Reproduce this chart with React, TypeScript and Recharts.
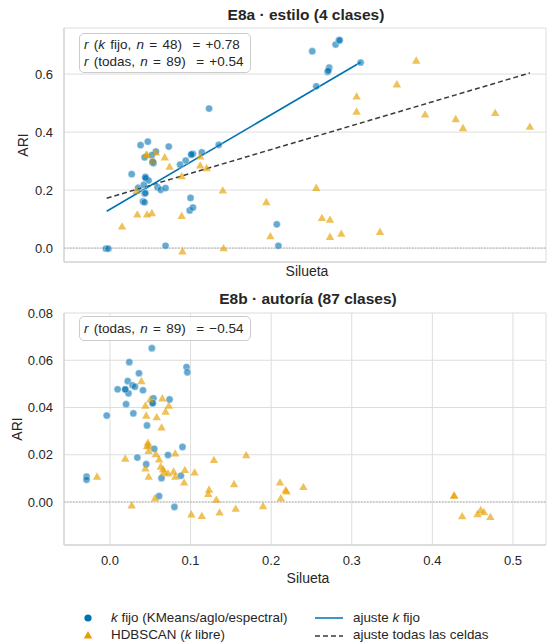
import React from 'react'
import { ScatterChart, Scatter, XAxis, YAxis, CartesianGrid, ReferenceLine } from 'recharts'

const FONT = '"Liberation Sans", Arial, sans-serif'
const BLUE = '#0072B2'
const ORANGE = '#E69F00'
const GRID = '#dddddd'
const TXT = '#262626'

const xTicks = [0, 0.1, 0.2, 0.3, 0.4, 0.5]
const estiloYTicks = [0, 0.2, 0.4, 0.6]
const autoriaYTicks = [0, 0.02, 0.04, 0.06, 0.08]

// E8a · estilo — k fijo
const estiloKFijo = [
  { x: -0.005, y: -0.002 }, { x: -0.002, y: -0.002 }, { x: 0.123, y: 0.481 }, { x: 0.047, y: 0.367 },
  { x: 0.038, y: 0.355 }, { x: 0.073, y: 0.35 }, { x: 0.057, y: 0.333 }, { x: 0.043, y: 0.313 },
  { x: 0.052, y: 0.321 }, { x: 0.053, y: 0.296 }, { x: 0.054, y: 0.293 }, { x: 0.101, y: 0.322 },
  { x: 0.103, y: 0.325 }, { x: 0.114, y: 0.33 }, { x: 0.135, y: 0.356 }, { x: 0.094, y: 0.302 },
  { x: 0.087, y: 0.288 }, { x: 0.027, y: 0.255 }, { x: 0.044, y: 0.246 }, { x: 0.045, y: 0.24 },
  { x: 0.048, y: 0.233 }, { x: 0.035, y: 0.208 }, { x: 0.042, y: 0.218 }, { x: 0.059, y: 0.21 },
  { x: 0.063, y: 0.201 }, { x: 0.069, y: 0.207 }, { x: 0.043, y: 0.188 }, { x: 0.1, y: 0.173 },
  { x: 0.041, y: 0.161 }, { x: 0.043, y: 0.158 }, { x: 0.099, y: 0.13 }, { x: 0.103, y: 0.14 },
  { x: 0.207, y: 0.082 }, { x: 0.209, y: 0.008 }, { x: 0.069, y: 0.008 }, { x: 0.251, y: 0.679 },
  { x: 0.28, y: 0.702 }, { x: 0.284, y: 0.716 }, { x: 0.285, y: 0.717 }, { x: 0.272, y: 0.622 },
  { x: 0.27, y: 0.608 }, { x: 0.271, y: 0.612 }, { x: 0.256, y: 0.558 }, { x: 0.311, y: 0.64 },
  { x: 0.044, y: 0.243 }, { x: 0.053, y: 0.298 }, { x: 0.101, y: 0.323 }, { x: 0.044, y: 0.19 },
]

// E8a · estilo — HDBSCAN
const estiloHdbscan = [
  { x: 0.045, y: 0.322 }, { x: 0.046, y: 0.321 }, { x: 0.057, y: 0.33 }, { x: 0.068, y: 0.313 },
  { x: 0.053, y: 0.3 }, { x: 0.074, y: 0.281 }, { x: 0.112, y: 0.316 }, { x: 0.112, y: 0.285 },
  { x: 0.12, y: 0.276 }, { x: 0.089, y: 0.248 }, { x: 0.033, y: 0.197 }, { x: 0.14, y: 0.199 },
  { x: 0.194, y: 0.159 }, { x: 0.034, y: 0.116 }, { x: 0.046, y: 0.116 }, { x: 0.052, y: 0.121 },
  { x: 0.089, y: 0.111 }, { x: 0.015, y: 0.075 }, { x: 0.199, y: 0.041 }, { x: 0.09, y: -0.011 },
  { x: 0.141, y: 0.0 }, { x: 0.38, y: 0.647 }, { x: 0.356, y: 0.565 }, { x: 0.306, y: 0.523 },
  { x: 0.306, y: 0.471 }, { x: 0.391, y: 0.461 }, { x: 0.429, y: 0.445 }, { x: 0.438, y: 0.414 },
  { x: 0.478, y: 0.466 }, { x: 0.521, y: 0.419 }, { x: 0.256, y: 0.208 }, { x: 0.263, y: 0.104 },
  { x: 0.273, y: 0.098 }, { x: 0.273, y: 0.039 }, { x: 0.287, y: 0.05 }, { x: 0.335, y: 0.056 },
]

const estiloFitKFijo = [{ x: -0.004, y: 0.127 }, { x: 0.311, y: 0.641 }]
const estiloFitTodas = [{ x: -0.004, y: 0.172 }, { x: 0.521, y: 0.604 }]

// E8b · autoría — k fijo
const autoriaKFijo = [
  { x: 0.052, y: 0.0651 }, { x: 0.024, y: 0.0592 }, { x: 0.036, y: 0.0545 }, { x: 0.095, y: 0.0571 },
  { x: 0.096, y: 0.0549 }, { x: 0.022, y: 0.0512 }, { x: 0.028, y: 0.0494 }, { x: 0.031, y: 0.0488 },
  { x: 0.0095, y: 0.0477 }, { x: 0.019, y: 0.0476 }, { x: 0.023, y: 0.046 }, { x: 0.041, y: 0.0473 },
  { x: 0.054, y: 0.0439 }, { x: 0.053, y: 0.0417 }, { x: 0.074, y: 0.0434 }, { x: 0.02, y: 0.0414 },
  { x: 0.029, y: 0.0375 }, { x: -0.004, y: 0.0366 }, { x: 0.046, y: 0.0324 }, { x: 0.055, y: 0.0225 },
  { x: 0.09, y: 0.0233 }, { x: 0.072, y: 0.0199 }, { x: 0.034, y: 0.0188 }, { x: 0.045, y: 0.016 },
  { x: -0.029, y: 0.0107 }, { x: -0.029, y: 0.0094 }, { x: 0.064, y: 0.0101 }, { x: 0.088, y: 0.0111 },
  { x: 0.061, y: 0.0025 }, { x: 0.08, y: -0.0021 }, { x: 0.019, y: 0.0477 }, { x: 0.053, y: 0.0419 },
]

// E8b · autoría — HDBSCAN
const autoriaHdbscan = [
  { x: 0.039, y: 0.0512 }, { x: 0.05, y: 0.0434 }, { x: 0.065, y: 0.0439 }, { x: 0.073, y: 0.0408 },
  { x: 0.044, y: 0.0408 }, { x: 0.069, y: 0.0383 }, { x: 0.045, y: 0.0366 }, { x: 0.058, y: 0.0359 },
  { x: 0.064, y: 0.0316 }, { x: 0.047, y: 0.0251 }, { x: 0.048, y: 0.024 }, { x: 0.046, y: 0.0237 },
  { x: 0.048, y: 0.0216 }, { x: 0.057, y: 0.0203 }, { x: 0.081, y: 0.0206 }, { x: 0.061, y: 0.0181 },
  { x: 0.019, y: 0.0184 }, { x: 0.129, y: 0.0178 }, { x: 0.169, y: 0.0198 }, { x: 0.063, y: 0.015 },
  { x: 0.066, y: 0.0139 }, { x: 0.067, y: 0.0128 }, { x: 0.044, y: 0.0142 }, { x: 0.072, y: 0.0121 },
  { x: 0.079, y: 0.0129 }, { x: 0.093, y: 0.0136 }, { x: 0.105, y: 0.0125 }, { x: 0.081, y: 0.0107 },
  { x: 0.048, y: 0.0107 }, { x: -0.016, y: 0.0108 }, { x: 0.092, y: 0.0083 }, { x: 0.154, y: 0.0076 },
  { x: 0.123, y: 0.0053 }, { x: 0.122, y: 0.0034 }, { x: 0.132, y: 0.001 }, { x: 0.056, y: 0.0017 },
  { x: 0.027, y: -0.0014 }, { x: 0.101, y: -0.0052 }, { x: 0.114, y: -0.0059 }, { x: 0.136, y: -0.0044 },
  { x: 0.156, y: -0.0028 }, { x: 0.211, y: 0.0083 }, { x: 0.218, y: 0.005 }, { x: 0.219, y: 0.0045 },
  { x: 0.24, y: 0.0064 }, { x: 0.212, y: 0.0016 }, { x: 0.19, y: -0.0017 }, { x: 0.427, y: 0.0027 },
  { x: 0.427, y: 0.0028 }, { x: 0.437, y: -0.006 }, { x: 0.456, y: -0.0051 }, { x: 0.46, y: -0.0034 },
  { x: 0.464, y: -0.0043 }, { x: 0.472, y: -0.0063 },
]

const Dot = (p: any) => (
  <circle cx={p.cx} cy={p.cy} r={3.6} fill={BLUE} fillOpacity={0.6} stroke="#ffffff" strokeWidth={0.4} />
)

const Tri = (p: any) => {
  const s = 4.2
  return (
    <path
      d={`M${p.cx},${p.cy - s} L${p.cx + s},${p.cy + s * 0.75} L${p.cx - s},${p.cy + s * 0.75} Z`}
      fill={ORANGE}
      fillOpacity={0.65}
    />
  )
}

const tickStyle = { fontSize: 13, fill: TXT, fontFamily: FONT }

const abs = (left: number, top: number, extra: React.CSSProperties = {}): React.CSSProperties => ({
  position: 'absolute', left, top, ...extra,
})

function Rotated({ cx, cy, text }: { cx: number; cy: number; text: string }) {
  return (
    <div style={abs(cx, cy, { transform: 'translate(-50%, -50%) rotate(-90deg)', fontSize: 14, whiteSpace: 'nowrap' })}>
      {text}
    </div>
  )
}

const boxText: React.CSSProperties = {
  border: '1px solid #cccccc', borderRadius: 5, background: 'rgba(255,255,255,0.85)',
  fontSize: 13.5, lineHeight: '17px', paddingLeft: 4, boxSizing: 'border-box', whiteSpace: 'nowrap',
  wordSpacing: 1.5,
}

const legendText: React.CSSProperties = { fontSize: 13.4, lineHeight: '16px', whiteSpace: 'nowrap' }
const titleText: React.CSSProperties = { width: 300, textAlign: 'center', fontSize: 15.5, fontWeight: 'bold', lineHeight: '18px' }

export default function App() {
  return (
    <div style={{ position: 'absolute', left: 0, top: 0, width: 548, height: 643, background: '#fff', fontFamily: FONT, color: TXT }}>
      <div style={abs(0, 0)}>
        <ScatterChart width={548} height={290} margin={{ top: 28, right: 2, bottom: 0, left: 0 }}>
          <CartesianGrid stroke={GRID} />
          <XAxis type="number" dataKey="x" domain={[-0.057, 0.541]} ticks={xTicks} allowDataOverflow
            height={28} tick={false} tickLine={false} axisLine={{ stroke: '#cccccc' }} />
          <YAxis type="number" dataKey="y" domain={[-0.048, 0.759]} ticks={estiloYTicks} allowDataOverflow
            width={64} tickLine={false} tickMargin={5} axisLine={{ stroke: '#cccccc' }} tick={tickStyle}
            tickFormatter={(v: number) => v.toFixed(1)} />
          <ReferenceLine y={0} stroke="#999999" strokeDasharray="1.5 1.5" strokeWidth={0.8} />
          <Scatter data={estiloKFijo} shape={Dot} isAnimationActive={false} />
          <Scatter data={estiloHdbscan} shape={Tri} isAnimationActive={false} />
          <ReferenceLine segment={estiloFitTodas} stroke="#3a3a3a" strokeWidth={1.5} strokeDasharray="5 3" />
          <ReferenceLine segment={estiloFitKFijo} stroke={BLUE} strokeWidth={1.6} />
        </ScatterChart>
      </div>

      <div style={abs(0, 285)}>
        <ScatterChart width={548} height={310} margin={{ top: 28, right: 2, bottom: 0, left: 0 }}>
          <CartesianGrid stroke={GRID} />
          <XAxis type="number" dataKey="x" domain={[-0.057, 0.541]} ticks={xTicks} allowDataOverflow
            height={50} tickLine={false} tickMargin={5} axisLine={{ stroke: '#cccccc' }} tick={tickStyle}
            tickFormatter={(v: number) => v.toFixed(1)} />
          <YAxis type="number" dataKey="y" domain={[-0.0182, 0.08]} ticks={autoriaYTicks} allowDataOverflow
            width={64} tickLine={false} tickMargin={5} axisLine={{ stroke: '#cccccc' }} tick={tickStyle}
            tickFormatter={(v: number) => v.toFixed(2)} />
          <ReferenceLine y={0} stroke="#999999" strokeDasharray="1.5 1.5" strokeWidth={0.8} />
          <Scatter data={autoriaKFijo} shape={Dot} isAnimationActive={false} />
          <Scatter data={autoriaHdbscan} shape={Tri} isAnimationActive={false} />
        </ScatterChart>
      </div>

      {/* titles */}
      <div style={abs(156, 6, titleText)}>E8a · estilo (4 clases)</div>
      <div style={abs(158, 290, titleText)}>E8b · autoría (87 clases)</div>

      {/* axis labels */}
      <Rotated cx={23} cy={145} text="ARI" />
      <Rotated cx={17} cy={429} text="ARI" />
      <div style={abs(257, 263, { width: 100, textAlign: 'center', fontSize: 14, lineHeight: '16px' })}>Silueta</div>
      <div style={abs(258, 570, { width: 100, textAlign: 'center', fontSize: 14, lineHeight: '16px' })}>Silueta</div>

      {/* annotation boxes */}
      <div style={abs(79, 33, { ...boxText, width: 172, height: 40, paddingTop: 2 })}>
        <div><i>r</i> (<i>k</i> fijo, <i>n</i> = 48) &nbsp;= +0.78</div>
        <div><i>r</i> (todas, <i>n</i> = 89) &nbsp;= +0.54</div>
      </div>
      <div style={abs(79, 316, { ...boxText, width: 172, height: 25, paddingTop: 3 })}>
        <i>r</i> (todas, <i>n</i> = 89) &nbsp;= −0.54
      </div>

      {/* legend */}
      <svg style={abs(0, 600)} width={548} height={43}>
        <circle cx={88} cy={18} r={3.6} fill={BLUE} />
        <path d="M88,31 L92.2,38.5 L83.8,38.5 Z" fill={ORANGE} />
        <line x1={315} x2={343} y1={18} y2={18} stroke={BLUE} strokeWidth={1.5} />
        <line x1={315} x2={343} y1={36} y2={36} stroke="#3a3a3a" strokeWidth={1.5} strokeDasharray="5 3" />
      </svg>
      <div style={abs(111, 610, legendText)}>
        <i>k</i> fijo (KMeans/aglo/espectral)
      </div>
      <div style={abs(111, 627, legendText)}>
        HDBSCAN (<i>k</i> libre)
      </div>
      <div style={abs(353, 610, legendText)}>
        ajuste <i>k</i> fijo
      </div>
      <div style={abs(353, 627, legendText)}>
        ajuste todas las celdas
      </div>
    </div>
  )
}
